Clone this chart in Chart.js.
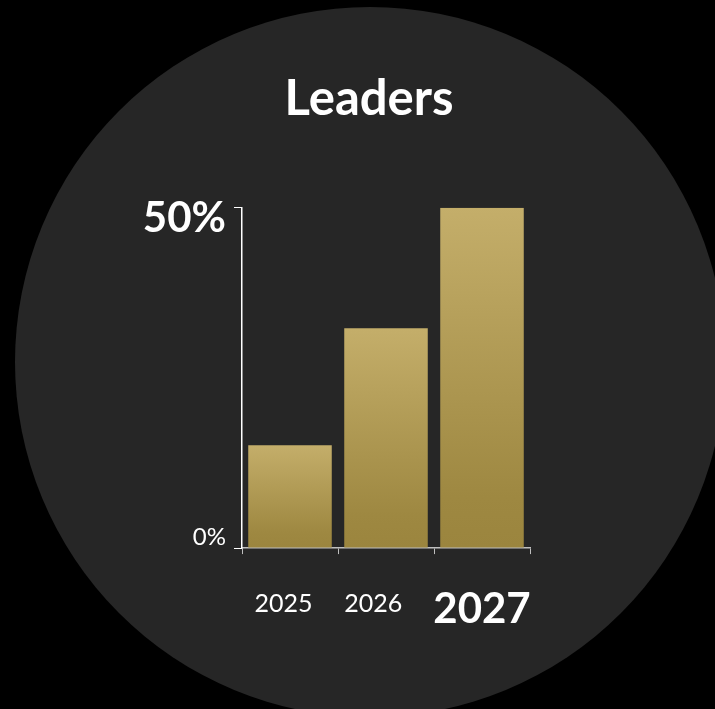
<!DOCTYPE html>
<html lang="en">
<head>
  <meta charset="UTF-8" />
  <title>Leaders</title>
  <script src="https://cdn.jsdelivr.net/npm/chart.js"></script>
  <style>
    html, body { margin: 0; padding: 0; background: #000; }
    #wrap { width: 715px; height: 709px; }
  </style>
</head>
<body>
  <div id="wrap"><canvas id="chart"></canvas></div>
  <script>
    // data
    const years = ['2025', '2026', '2027'];
    const leaders = [15.1, 32.3, 50];
    const yTicks = [0, 50];

    const FONT = 'Lato, "Open Sans", sans-serif';

    // dark round backdrop behind the chart
    const backdrop = {
      id: 'backdrop',
      beforeDraw(chart) {
        const c = chart.ctx;
        c.save();
        c.fillStyle = '#000';
        c.fillRect(0, 0, chart.width, chart.height);
        c.beginPath();
        c.arc(370, 362, 355, 0, Math.PI * 2);
        c.fillStyle = '#262626';
        c.fill();
        c.restore();
      }
    };

    // gold gradient, light on top of each bar, darker at the base
    function barFill(ctx) {
      const chart = ctx.chart;
      const y = chart.scales.y;
      if (!chart.chartArea || !y || !ctx.parsed) return '#b09a55';
      const top = y.getPixelForValue(ctx.parsed.y);
      const base = y.getPixelForValue(0);
      if (!isFinite(top) || !isFinite(base) || top === base) return '#b09a55';
      const g = chart.ctx.createLinearGradient(0, top, 0, base);
      g.addColorStop(0, '#c4ae6a');
      g.addColorStop(0.85, '#9e8841');
      g.addColorStop(1, '#9b853e');
      return g;
    }

    // the small year labels sit a little left of their bar centres
    const labelPad = ['  ', '    ', ''];

    new Chart(document.getElementById('chart'), {
      type: 'bar',
      data: {
        labels: years,
        datasets: [{
          label: 'Leaders',
          data: leaders,
          backgroundColor: barFill,
          borderWidth: 0,
          barPercentage: 0.87,
          categoryPercentage: 1
        }]
      },
      options: {
        responsive: true,
        maintainAspectRatio: false,
        animation: false,
        layout: { padding: { left: 132, right: 109, top: 0, bottom: 45 } },
        plugins: {
          legend: { display: false },
          tooltip: { enabled: false },
          title: {
            display: true,
            text: 'Leaders',
            color: '#ffffff',
            font: { family: FONT, size: 49, weight: 'bold', lineHeight: 1.2 },
            padding: { top: 70, bottom: 79 }
          }
        },
        scales: {
          x: {
            offset: true,
            border: { color: '#bfbfbf', width: 1.5 },
            grid: { drawOnChartArea: false, drawTicks: true, tickLength: 6, color: '#bfbfbf', offset: true },
            ticks: {
              color: '#ffffff',
              padding: 35,
              autoSkip: false,
              maxRotation: 0,
              minRotation: 0,
              callback: (v, i) => years[i] + labelPad[i],
              font: (c) => c.index === 2
                ? { family: FONT, size: 42, weight: 'bold', lineHeight: 0.95 }
                : { family: FONT, size: 25, weight: 'normal', lineHeight: 1.2 }
            }
          },
          y: {
            min: 0,
            max: 50,
            afterFit(scale) { scale.width = 110; },
            afterBuildTicks(scale) { scale.ticks = yTicks.map(v => ({ value: v })); },
            border: { color: '#ffffff', width: 1.5 },
            grid: { drawOnChartArea: false, drawTicks: true, tickLength: 8, color: '#ffffff' },
            ticks: {
              color: '#ffffff',
              padding: 8,
              callback: (v) => v === 50 ? ['', v + '%'] : [v + '%', ''],
              font: (c) => c.index === 1
                ? { family: FONT, size: 42, weight: 'bold', lineHeight: '22px' }
                : { family: FONT, size: 24, weight: 'normal', lineHeight: '22px' }
            }
          },
          // empty right-hand spacer so the title centres where the original does
          spacer: {
            position: 'right',
            afterFit(scale) { scale.width = 76; },
            border: { display: false },
            grid: { display: false },
            ticks: { display: false }
          }
        }
      },
      plugins: [backdrop]
    });
  </script>
</body>
</html>
